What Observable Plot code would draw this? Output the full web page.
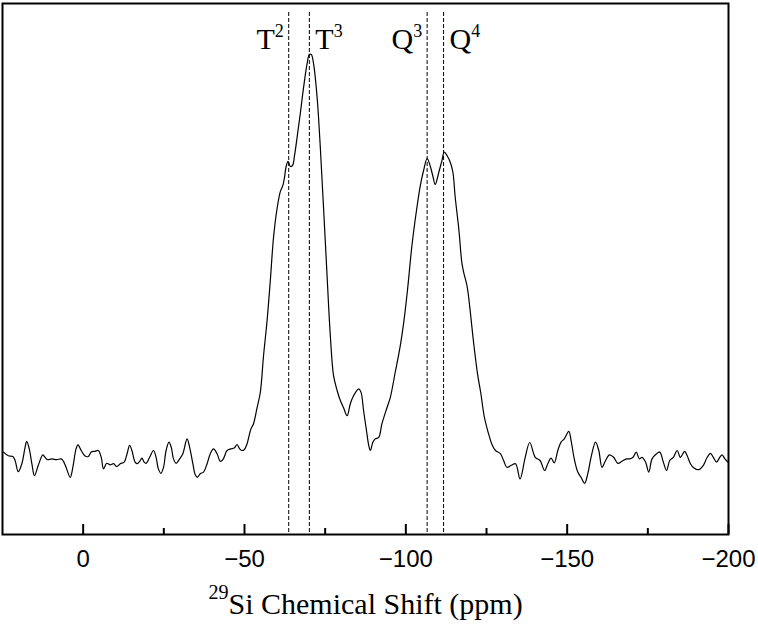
<!DOCTYPE html>
<html><head><meta charset="utf-8">
<script src="https://cdn.jsdelivr.net/npm/d3@7"></script>
<script src="https://cdn.jsdelivr.net/npm/@observablehq/plot@0.6"></script>
<style>body{margin:0;background:#fff}svg{display:block}</style>
</head><body><div id="chart"></div>
<script>
// 29Si chemical shift (ppm) and intensity (a.u.)
const shift = [24.7,23.2,21.8,21.1,20.1,19.0,18.0,17.5,16.7,15.9,15.1,13.9,12.5,11.8,11.1,9.7,8.2,6.8,6.1,5.3,4.0,3.2,2.2,1.6,0.6,-0.6,-1.6,-2.5,-3.7,-4.7,-5.6,-6.3,-7.3,-8.4,-9.4,-10.4,-11.5,
-12.7,-13.6,-14.4,-15.1,-16.1,-16.8,-17.7,-18.2,-18.9,-19.5,-20.6,-21.8,-22.6,-23.3,-24.1,-24.9,-25.7,-26.6,-27.3,-28.0,-28.8,-29.9,-30.9,-32.2,-33.0,-34.0,-34.7,-35.4,-36.3,-37.3,-38.4,-39.4,-40.4,-41.5,-42.5,-43.3,-44.6,-45.8,-46.8,-47.7,-48.5,-49.2,-49.9,-50.8,-51.6,-52.0,
-52.8,-53.9,-54.9,-55.9,-57.0,-58.0,-59.0,-60.1,-61.1,-61.9,-62.4,-62.9,-63.5,-64.2,-64.9,-65.5,-66.3,-67.3,-68.3,-69.4,-70.1,-70.7,-71.4,-72.5,-73.5,-74.5,-75.6,-76.6,-77.6,-78.7,-79.7,-80.7,-81.8,-82.8,-83.8,-85.4,-86.1,-86.9,-87.8,-88.5,-89.0,-89.8,-90.5,-91.6,-92.6,-94.2,-95.2,-96.7,-98.3,-99.3,-100.5,-101.9,-103.3,-104.5,-105.5,-106.6,-107.6,-108.4,-109.1,-110.2,-111.2,-111.9,-112.8,-113.8,-114.6,-115.3,-116.4,-117.4,-118.0,-119.0,-120.0,-121.0,-122.2,-123.3,-124.3,-125.6,-126.8,-127.8,
-129.3,-130.3,-131.3,-132.7,-134.0,-135.4,-137.0,-138.4,-140.1,-141.6,-143.0,-144.0,-145.0,-146.0,-147.1,-148.1,-149.1,-150.5,-151.3,-152.2,-153.3,-154.3,-155.4,-156.4,-157.4,-158.8,-159.8,-160.8,-161.9,-163.1,-164.4,-165.7,-167.0,-168.4,-169.4,-170.4,-171.4,-172.4,-173.2,-174.3,-175.3,-176.3,-177.7,-178.7,-179.8,-180.8,-181.8,-182.9,-184.1,-185.1,-186.4,-187.2,-188.2,-189.2,-190.8,-192.2,-193.4,-194.4,-195.3,-196.3,-197.3,-198.0,-198.9,-199.8];
const intensity = [2.1,1.2,1.0,0,-2.8,-0.8,3.3,4.8,2.9,-0.8,-3.8,-1.2,1.4,0.8,0.2,0.4,0.2,0.4,-0.2,-1.7,-4.2,-1.7,2.9,3.9,2.5,1.1,1.0,2.1,2.3,2.5,0.8,-2.1,-0.7,-1.1,-0.8,-1.5,-0.8,
-0.4,1.7,3.8,2.5,-0.4,-0.8,0,0.6,-0.4,-0.7,0.8,2.5,0.8,-2.1,-3.2,-1.7,2.5,4.6,3.3,0.4,-0.7,0.4,1.7,5.4,3.3,-0.8,-3.5,-4.2,-3.3,-2.9,-0.8,1.7,2.9,1.7,-0.2,0.2,2.5,2.9,3.1,4.0,2.9,2.5,2.7,4.2,6.8,7.9,
9.2,13.2,17,26.2,35,45,55.8,63,67.2,68.8,70.8,73.5,74.8,73.5,73.8,76.2,80.8,86.8,93.2,99.2,101.5,101.5,99.2,90.8,78.2,63.2,46,31.2,21.2,17.5,15,13.2,11.2,14.2,16.2,17.9,17.1,12.5,7.5,3.8,2.5,4.6,5.4,5.8,9.2,13.3,15.8,22,28.8,34.2,42.5,53.8,62.5,68.8,72.5,75.5,73.5,71,69,72,75,77.1,76.2,74.5,72,65.8,58,49.2,46.8,43.5,37,29.5,21.8,16.5,11,6.8,3.8,2.5,
1.7,0,-1.7,-1.2,-0.8,-4.6,0.8,4.5,0.8,0,-2.5,-0.8,0.6,-0.6,2.5,4.6,5.4,7.3,4.6,0.4,-2.9,-4.2,-5.7,-3.3,0.8,4.6,2.5,-1.7,0,1.4,0.8,-0.7,-0.2,0.4,0.4,0.8,2.1,0.4,0.8,-0.4,-2.9,0.4,1.7,2.1,-0.4,-2.5,0,0.8,2.5,0.8,2.3,1.2,-0.8,-1.8,-2.3,-1.2,0.8,1.8,0.8,-0.4,0.8,1.4,0.4,-0.4];

const majorTicks = [0, -50, -100, -150, -200];
const minorTicks = [-25, -75, -125, -175];
const peakNames = ["T{2}", "T{3}", "Q{3}", "Q{4}"];
const peakShifts = [-63.7, -70.1, -106.6, -111.7];
const peakSides = ["left", "right", "left", "right"];
const axisTitle = "{29}Si Chemical Shift (ppm)";

const spectrum = shift.map((s, i) => ({shift: s, intensity: intensity[i]}));
const peaks = peakNames.map((n, i) => ({name: n, shift: peakShifts[i], side: peakSides[i]}));

const serif = "'Liberation Serif', 'Times New Roman', serif";
const sans = "'Liberation Sans', Arial, sans-serif";

const plot = Plot.plot({
  width: 758, height: 631,
  marginLeft: 2, marginRight: 30, marginTop: 3, marginBottom: 97,
  x: {domain: [25, -200]},
  y: {domain: [-18.5, 114.25], axis: null},
  marks: [
    Plot.ruleX(peaks, {x: "shift", stroke: "#000", strokeWidth: 1, strokeDasharray: "4,2", insetTop: 9}),
    Plot.line(spectrum, {x: "shift", y: "intensity", stroke: "#000", strokeWidth: 1.2, curve: "catmull-rom"}),
    Plot.axisX(majorTicks, {tickSize: -10, tickPadding: 25, fontSize: 24, fontFamily: sans, label: null, strokeWidth: 2, fill: "#000"}),
    Plot.axisX(minorTicks, {tickSize: -6, tickFormat: () => "", label: null, strokeWidth: 2}),
    Plot.text(peaks.filter(d => d.side === "left"), {x: "shift", text: "name", frameAnchor: "top", lineAnchor: "top", textAnchor: "end", dx: -5, dy: 24, fontSize: 30, fontFamily: serif, fill: "#000"}),
    Plot.text(peaks.filter(d => d.side === "right"), {x: "shift", text: "name", frameAnchor: "top", lineAnchor: "top", textAnchor: "start", dx: 6, dy: 24, fontSize: 30, fontFamily: serif, fill: "#000"}),
    Plot.text([axisTitle], {text: d => d, frameAnchor: "bottom", dy: 79, fontSize: 30, fontFamily: serif, fill: "#000"}),
    Plot.frame({stroke: "#000", strokeWidth: 2})
  ]
});
document.getElementById("chart").append(plot);

// superscripts written as {n}: raised with baseline-shift so the text's own dy is kept
d3.select(plot).selectAll("text").each(function() {
  const s = this.textContent;
  if (!s.includes("{")) return;
  const fs = parseFloat(getComputedStyle(this).fontSize) || 30;
  const isTitle = s.startsWith("{");
  const supSize = (isTitle ? 0.67 : 0.6) * fs;
  const rise = (isTitle ? 0.5 : 0.4) * fs;
  const parts = s.split(/(\{[^}]*\})/).filter(p => p.length);
  this.textContent = "";
  for (const p of parts) {
    const t = d3.select(this).append("tspan");
    if (p.startsWith("{")) {
      t.text(p.slice(1, -1)).attr("font-size", supSize).attr("baseline-shift", rise);
    } else {
      t.text(p);
    }
  }
});
</script></body></html>
